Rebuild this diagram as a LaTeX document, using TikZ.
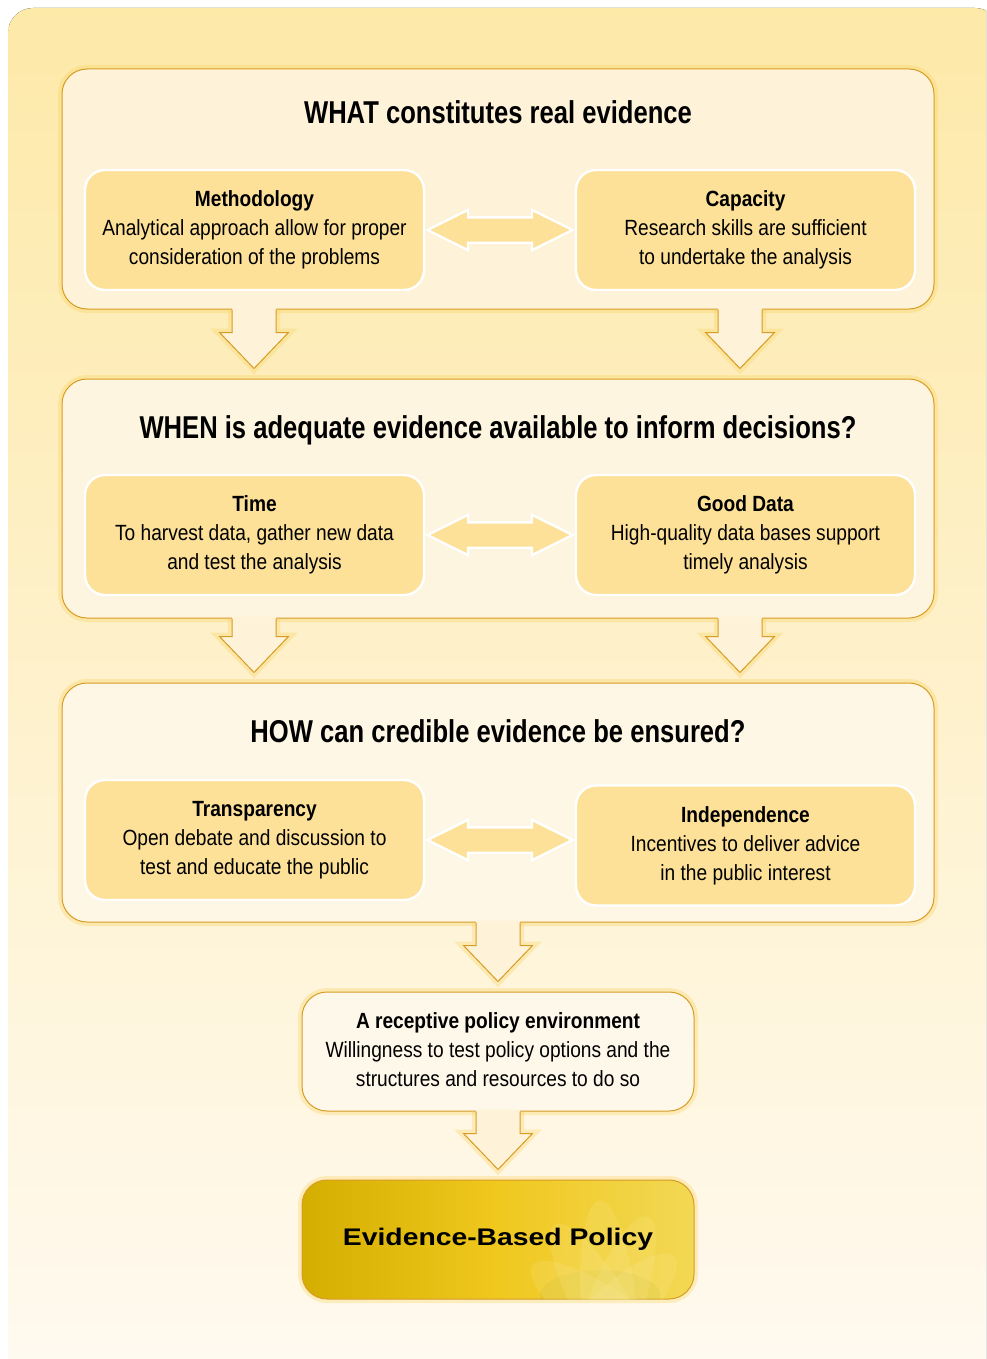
\documentclass[tikz,border=0pt]{standalone}
\usepackage{fontspec}
\newfontfamily\condfont[FakeStretch=0.87]{Liberation Sans}
\newfontfamily\headfont[FakeStretch=0.81]{Liberation Sans}
\newfontfamily\widefont[FakeStretch=1.18]{Liberation Sans}
\usetikzlibrary{shapes.arrows,calc}
\definecolor{bgtop}{RGB}{253,233,168}
\definecolor{bgbot}{RGB}{255,250,241}
\definecolor{cream}{RGB}{254,242,216}
\definecolor{boxfill}{RGB}{253,225,152}
\definecolor{goldline}{RGB}{214,156,36}
\definecolor{glow}{RGB}{250,212,100}
\definecolor{golddark}{RGB}{212,174,0}
\definecolor{goldmid}{RGB}{240,200,30}
\definecolor{goldlight}{RGB}{242,216,84}
\definecolor{petal}{RGB}{255,240,170}
\definecolor{olive}{RGB}{190,180,40}

% block arrow going down from one panel to the next
\newcommand{\blockdown}[4]{%
  \path let \p1=(#2.south), \p2=(#3.north), \n1={#1*0.5} in
    coordinate (#4s1) at ({(\n1-11)*1pt},\y1)
    coordinate (#4h1) at ({(\n1-11)*1pt},{\y2+23pt})
    coordinate (#4w1) at ({(\n1-17.25)*1pt},{\y2+23pt})
    coordinate (#4t) at ({\n1*1pt},{\y2+5pt})
    coordinate (#4w2) at ({(\n1+17.25)*1pt},{\y2+23pt})
    coordinate (#4h2) at ({(\n1+11)*1pt},{\y2+23pt})
    coordinate (#4s2) at ({(\n1+11)*1pt},\y1);
  \draw[glow, line width=4pt, draw opacity=0.35] (#4s1) -- (#4h1) -- (#4w1) -- (#4t) -- (#4w2) -- (#4h2) -- (#4s2);
  \fill[cream] ([yshift=1pt]#4s1) -- (#4h1) -- (#4w1) -- (#4t) -- (#4w2) -- (#4h2) -- ([yshift=1pt]#4s2) -- cycle;
  \draw[goldline, line width=0.5pt] (#4s1) -- (#4h1) -- (#4w1) -- (#4t) -- (#4w2) -- (#4h2) -- (#4s2);
}

\begin{document}
\begin{tikzpicture}[
    x=0.5pt, y=-0.5pt,
    font=\condfont\fontsize{11}{14.5}\selectfont,
    panel/.style={
		rectangle,
		rounded corners=12.5pt,
		draw=goldline,
		line width=0.5pt,
		fill=cream,
		minimum width=436pt,
		minimum height=120pt,
		preaction={draw=glow, line width=4pt, draw opacity=0.35}
	},
    item/.style={
		rectangle,
		rounded corners=10pt,
		draw=white,
		line width=1.2pt,
		fill=boxfill,
		inner sep=0pt,
		minimum width=169.5pt,
		minimum height=60pt
	},
    twoway/.style={
		double arrow,
		double arrow tip angle=53,
		double arrow head extend=3.75pt,
		draw=white,
		line width=1.2pt,
		fill=boxfill,
		inner xsep=0pt,
		inner ysep=5.75pt,
		minimum width=19pt,
		minimum height=72.5pt
	},
    heading/.style={
		font=\headfont\bfseries\fontsize{15.8}{18}\selectfont
	}
  ]
  \useasboundingbox (0,0) rectangle (986,1359);
  \clip (0,0) rectangle (986,1359);
  \fill[top color=bgtop, bottom color=bgbot, rounded corners=12.5pt] (8,8) rectangle (1000,1390);

    % We start by placing the panels
  \node [panel] (what) at (498,189) {};
  \node [panel, minimum height=119.5pt, fill=cream!80!white] (when) at (498,498.5) {};
  \node [panel, minimum height=119.5pt, fill=cream!65!white] (how) at (498,802.5) {};
  \node [panel, minimum width=196pt, minimum height=59.5pt, fill=cream!55!white] (recept) at (498,1051.5)
 {%
 \begin{tabular}{c}
  \textbf{A receptive policy environment}\\
  Willingness to test policy options and the\\
  structures and resources to do so
 \end{tabular}
 };
  \node [panel, minimum width=196pt, minimum height=59.5pt, left color=golddark, right color=goldlight, middle color=goldmid] (ebp) at (498,1239.5) {};

  % soft flower in the last box
  \begin{scope}
    \clip [rounded corners=12.5pt] (ebp.south west) rectangle (ebp.north east);
    \fill [olive, opacity=0.18] (600,1295) ellipse (60 and 25);
    \foreach \ang/\len in {-45/90, -20/110, 5/120, 30/110, 55/95} {
      \fill [petal, opacity=0.16, rotate around={\ang:(610,1320)}] (610,1320) ellipse (28 and \len);
    }
  \end{scope}
  \node [font=\widefont\bfseries\fontsize{12}{14}\selectfont] (ebptext) at (ebp.center) {Evidence-Based Policy};

  % arrows between the panels
  \blockdown{254}{what}{when}{a}
  \blockdown{740}{what}{when}{b}
  \blockdown{254}{when}{how}{c}
  \blockdown{740}{when}{how}{d}
  \blockdown{498}{how}{recept}{e}
  \blockdown{498}{recept}{ebp}{f}

  % titles
  \node [heading] (whattitle) at (498,112) {WHAT constitutes real evidence};
  \node [heading] (whentitle) at (498,430) {WHEN is adequate evidence available to inform decisions?};
  \node [heading] (howtitle) at (498,731) {HOW can credible evidence be ensured?};

  % the boxes inside the panels
  \node [item] (meth) at (254.5,230)
 {%
 \begin{tabular}{c}
  \textbf{Methodology}\\
  Analytical approach allow for proper\\
  consideration of the problems
 \end{tabular}
 };
  \node [item] (cap) at (745.5,230)
 {%
 \begin{tabular}{c}
  \textbf{Capacity}\\
  Research skills are sufficient\\
  to undertake the analysis
 \end{tabular}
 };
  \node [item] (time) at (254.5,535)
 {%
 \begin{tabular}{c}
  \textbf{Time}\\
  To harvest data, gather new data\\
  and test the analysis
 \end{tabular}
 };
  \node [item] (data) at (745.5,535)
 {%
 \begin{tabular}{c}
  \textbf{Good Data}\\
  High-quality data bases support\\
  timely analysis
 \end{tabular}
 };
  \node [item] (transp) at (254.5,840)
 {%
 \begin{tabular}{c}
  \textbf{Transparency}\\
  Open debate and discussion to\\
  test and educate the public
 \end{tabular}
 };
  \node [item] (indep) at (745.5,845.5)
 {%
 \raisebox{3.5pt}{\begin{tabular}{c}
  \textbf{Independence}\\
  Incentives to deliver advice\\
  in the public interest
 \end{tabular}}
 };

  % two-way arrows
  \node [twoway] (ab1) at ($(meth.east)!0.5!(cap.west)$) {};
  \node [twoway] (ab2) at ($(time.east)!0.5!(data.west)$) {};
  \node [twoway] (ab3) at ($(transp.east)!0.5!(transp.east -| indep.west)$) {};

\end{tikzpicture}
\end{document}
